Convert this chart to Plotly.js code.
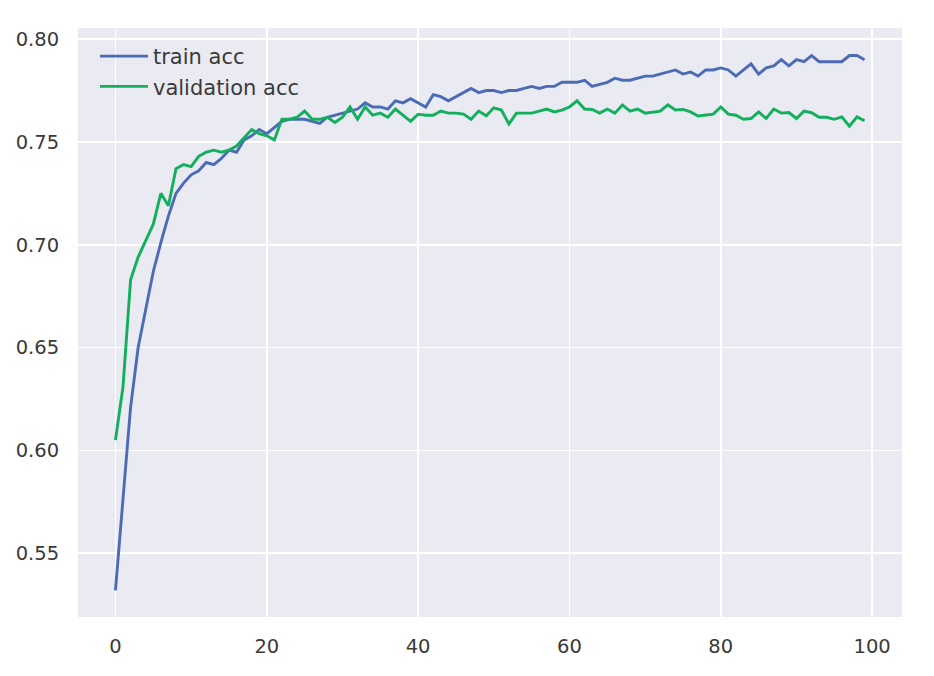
<!DOCTYPE html>
<html>
<head>
<meta charset="utf-8">
<script src="https://cdn.plot.ly/plotly-3.0.1.min.js"></script>
<style>html,body{margin:0;padding:0;background:#fff;}#chart{width:934px;height:676px;}</style>
</head>
<body>
<div id="chart"></div>
<script>
const epochs = Array.from({length: 100}, (_, i) => i);
const trainAcc = [
0.532,0.578,0.621,0.650,0.668,0.687,0.701,0.714,0.725,0.730,
0.734,0.736,0.740,0.739,0.742,0.746,0.745,0.751,0.753,0.756,
0.754,0.757,0.760,0.761,0.761,0.761,0.760,0.759,0.762,0.763,
0.764,0.765,0.766,0.769,0.767,0.767,0.766,0.770,0.769,0.771,
0.769,0.767,0.773,0.772,0.770,0.772,0.774,0.776,0.774,0.775,
0.775,0.774,0.775,0.775,0.776,0.777,0.776,0.777,0.777,0.779,
0.779,0.779,0.780,0.777,0.778,0.779,0.781,0.780,0.780,0.781,
0.782,0.782,0.783,0.784,0.785,0.783,0.784,0.782,0.785,0.785,
0.786,0.785,0.782,0.785,0.788,0.783,0.786,0.787,0.790,0.787,
0.790,0.789,0.792,0.789,0.789,0.789,0.789,0.792,0.792,0.790
];
const valAcc = [
0.605,0.631,0.683,0.694,0.702,0.710,0.725,0.719,0.737,0.739,
0.738,0.743,0.745,0.746,0.745,0.746,0.748,0.752,0.756,0.754,
0.753,0.751,0.761,0.761,0.762,0.765,0.761,0.761,0.762,0.7595,
0.762,0.767,0.761,0.767,0.763,0.764,0.762,0.766,0.763,0.760,
0.7635,0.763,0.763,0.765,0.764,0.764,0.7635,0.761,0.765,0.7627,
0.7666,0.7655,0.7587,0.764,0.764,0.764,0.765,0.766,0.7646,0.7655,
0.767,0.770,0.766,0.7658,0.764,0.766,0.764,0.768,0.765,0.766,
0.764,0.7645,0.765,0.768,0.7655,0.7658,0.7646,0.7626,0.763,0.7635,
0.767,0.7635,0.763,0.761,0.7614,0.7646,0.7614,0.766,0.764,0.7643,
0.7614,0.765,0.7642,0.762,0.762,0.761,0.7622,0.7577,0.7622,0.7603
];
const seriesNames = ['train acc', 'validation acc'];
const xTicks = [0, 20, 40, 60, 80, 100];
const yTicks = [0.55, 0.60, 0.65, 0.70, 0.75, 0.80];
const yTickText = ['0.55', '0.60', '0.65', '0.70', '0.75', '0.80'];

const traces = [
  {x: epochs, y: trainAcc, name: seriesNames[0], type: 'scatter', mode: 'lines', legendgroup: 'a',
   line: {color: '#4C6BB6', width: 2.9}},
  {x: epochs, y: valAcc, name: seriesNames[1], type: 'scatter', mode: 'lines', legendgroup: 'b',
   line: {color: '#12AF5C', width: 2.9}}
];

const tickFont = {family: 'DejaVu Sans, sans-serif', size: 19.5, color: '#3a3a3a'};
const layout = {
  width: 934, height: 676,
  margin: {l: 78, r: 32, t: 28, b: 59},
  paper_bgcolor: '#ffffff',
  plot_bgcolor: '#EAEAF2',
  showlegend: true,
  legend: {x: 0.0206, y: 0.9865, xanchor: 'left', yanchor: 'top',
           bgcolor: 'rgba(0,0,0,0)', borderwidth: 0, itemwidth: 48,
           traceorder: 'grouped', tracegroupgap: 0,
           font: {family: 'DejaVu Sans, sans-serif', size: 21, color: '#3a3a3a'}},
  xaxis: {range: [-4.95, 103.95], tickvals: xTicks, showgrid: true, gridcolor: '#ffffff', gridwidth: 1.6,
          zeroline: false, showline: false, ticks: 'outside', ticklen: 12, tickcolor: 'rgba(0,0,0,0)',
          tickfont: tickFont},
  yaxis: {range: [0.519, 0.8054], tickvals: yTicks, ticktext: yTickText, showgrid: true, gridcolor: '#ffffff', gridwidth: 1.6,
          zeroline: false, showline: false, ticks: 'outside', ticklen: 14, tickcolor: 'rgba(0,0,0,0)',
          tickfont: tickFont}
};
Plotly.newPlot('chart', traces, layout, {displayModeBar: false, staticPlot: true});
</script>
</body>
</html>
